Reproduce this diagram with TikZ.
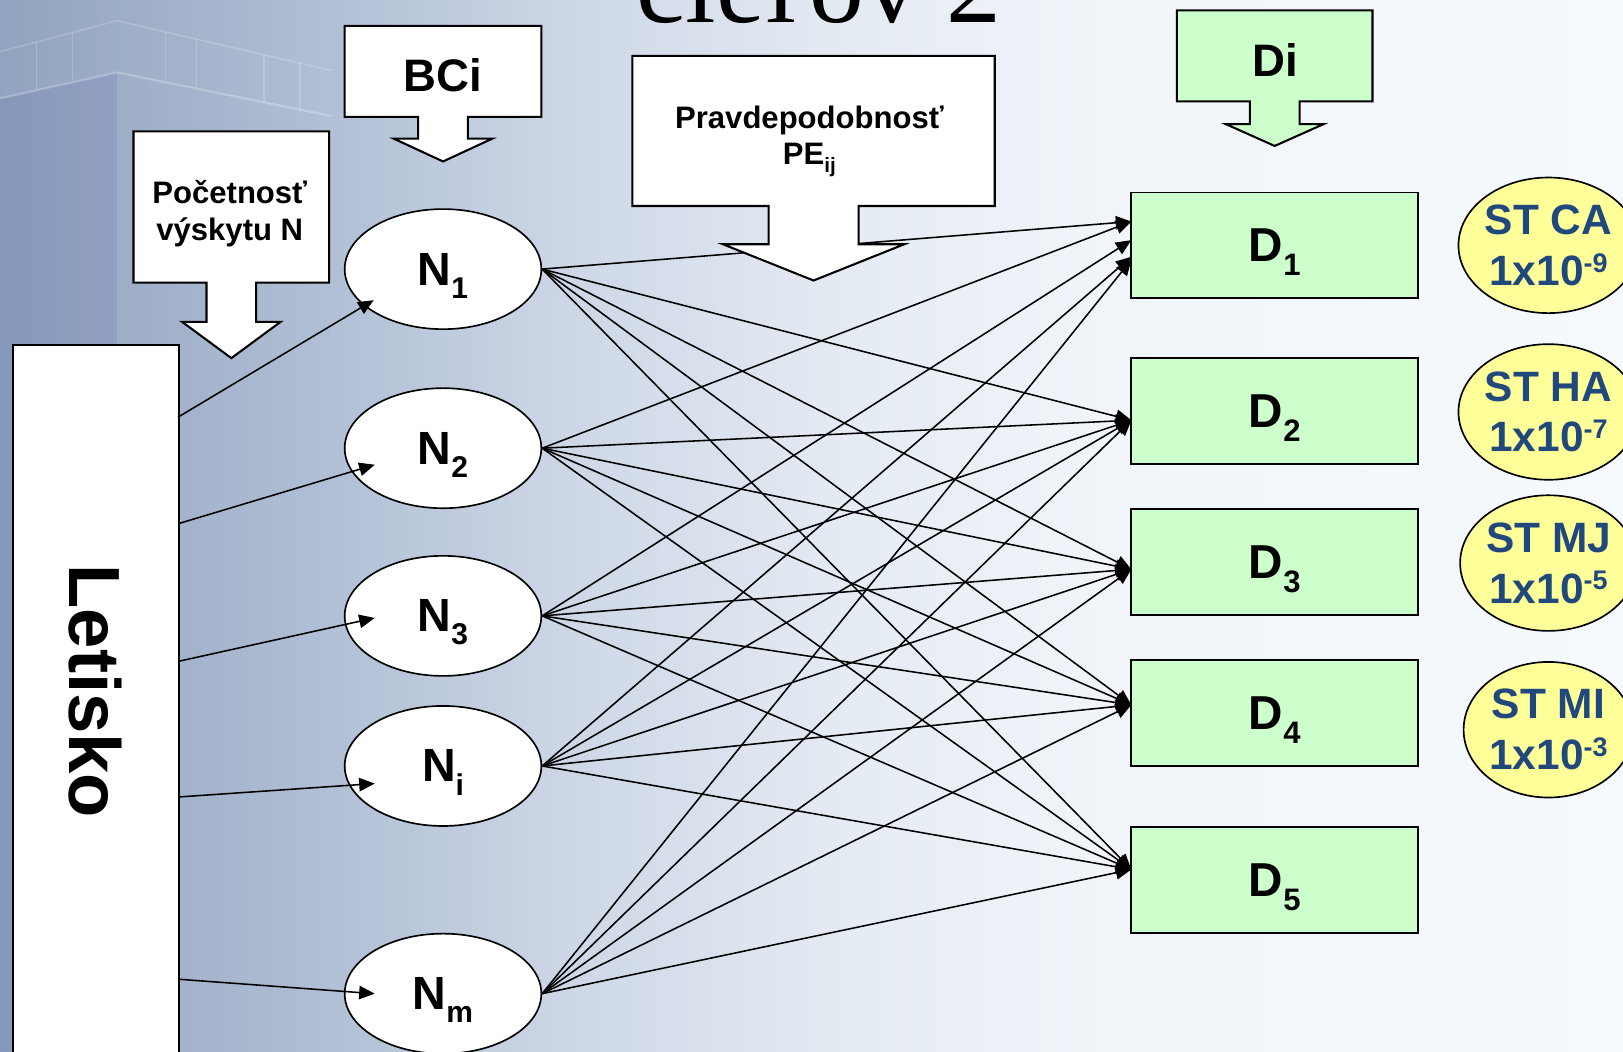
\documentclass[tikz,border=0pt]{standalone}
\usepackage{fontspec}
\setmainfont{Liberation Sans}
\newfontfamily\ttlfont{Liberation Serif}
\usetikzlibrary{arrows.meta,calc,shapes.geometric}
\definecolor{bgA}{RGB}{146,163,191}
\definecolor{bgB}{RGB}{176,191,213}
\definecolor{bgC}{RGB}{207,216,231}
\definecolor{bgD}{RGB}{229,235,243}
\definecolor{bgE}{RGB}{241,245,250}
\definecolor{bgF}{RGB}{246,249,253}
\definecolor{dgreen}{RGB}{204,255,204}
\definecolor{yel}{RGB}{255,255,153}
\definecolor{stblue}{RGB}{33,72,125}
\pgfdeclarehorizontalshading{bgshade}{100bp}{color(0bp)=(bgA); color(25bp)=(bgA); color(35bp)=(bgB); color(43bp)=(bgC); color(51bp)=(bgD); color(59bp)=(bgE); color(75bp)=(bgF); color(100bp)=(bgF)}
\newcommand\callout[9]{%
  \path[draw=black, line width=1pt, fill=#9, line join=miter]
    (#1,#2) -- (#3,#2) -- (#3,#4)
    -- ({(#1+#3)/2+#5},#4) -- ({(#1+#3)/2+#5},#6) -- ({(#1+#3)/2+#7},#6)
    -- ({(#1+#3)/2},#8)
    -- ({(#1+#3)/2-#7},#6) -- ({(#1+#3)/2-#5},#6) -- ({(#1+#3)/2-#5},#4)
    -- (#1,#4) -- cycle;}
\newcommand\nlab[1]{N\smash{\raisebox{-6.3pt}{\fontsize{14.5}{14.5}\selectfont #1}}}
\newcommand\dlab[1]{D\smash{\raisebox{-6.8pt}{\fontsize{15}{15}\selectfont #1}}}
\newcommand\supx[1]{\smash{\raisebox{6.4pt}{\fontsize{13}{13}\selectfont #1}}}
\begin{document}
\begin{tikzpicture}[x=0.5pt,y=-0.5pt,
  nell/.style={ellipse, draw=black, line width=0.8pt, fill=white, inner sep=0pt,
    minimum width=95pt, minimum height=58pt, font=\bfseries\fontsize{22.5}{27}\selectfont},
  dbox/.style={rectangle, draw=black, line width=0.9pt, fill=dgreen, inner sep=0pt,
    minimum width=138.5pt, minimum height=51pt, font=\bfseries\fontsize{23}{27}\selectfont},
  yell/.style={ellipse, draw=black, line width=0.8pt, fill=yel, inner sep=0pt,
    minimum width=82pt, minimum height=65.5pt, align=center, text=stblue,
    font=\bfseries\fontsize{20.5}{24.5}\selectfont},
  conn/.style={line width=0.75pt, -{Triangle[length=7.5pt,width=6.5pt]}},
  lbl/.style={inner sep=0pt, font=\bfseries\fontsize{15}{17.5}\selectfont, align=center},
  big/.style={inner sep=0pt, font=\bfseries\fontsize{22}{26}\selectfont}]
\clip (0,0) rectangle (1568,1016);
\shade[shading=bgshade] (0,0) rectangle (1568,1016);
% faint building
\fill[black!50!blue, opacity=0.07] (0,95) -- (113,70) -- (113,1016) -- (0,1016) -- cycle;
\draw[white, opacity=0.25, line width=1pt] (0,95) -- (113,70) -- (320,112);
\draw[white, opacity=0.18, line width=0.8pt] (0,50) -- (113,20) -- (320,68);
\foreach \px/\py in {35/41, 70/32, 160/31, 190/38, 255/53, 290/61}
  \draw[white, opacity=0.18, line width=0.7pt] (\px,\py) -- (\px,{\py+46});
% title (cut by the top edge, as in the reference)
\node[anchor=base west, inner sep=0pt, font=\ttlfont\fontsize{53}{53}\selectfont] (ttl) at (615,22) {cieľov 2};
% callouts
\callout{333}{25}{523}{113}{24}{134}{47.5}{156}{white}
\node[big] (bci) at (428,73) {BCi};
\callout{129}{127}{318}{273}{24}{311}{47.5}{346}{white}
\node[lbl, anchor=base] (pocet) at (222,232) {Početnosť\\výskytu N};
\callout{1137}{10}{1326}{98}{24}{120}{47}{141}{dgreen}
\node[big] (di) at (1232,58) {Di};
% Letisko
\node[draw=black, line width=1pt, fill=white, anchor=north west, inner sep=0pt,
  minimum width=80pt, minimum height=360pt] (let) at (12,332) {};
\node[rotate=-90, inner sep=0pt, font=\bfseries\fontsize{35}{40}\selectfont] (lettxt) at (92,668) {Letisko};
% N ellipses
\node[nell] (N1) at (428,260) {\nlab{1}};
\node[nell] (N2) at (428,433) {\nlab{2}};
\node[nell] (N3) at (428,595) {\nlab{3}};
\node[nell] (Ni) at (428,740) {\nlab{i}};
\node[nell] (Nm) at (428,960) {\nlab{m}};
% D boxes
\node[dbox] (D1) at (1231.5,237) {\dlab{1}};
\node[dbox] (D2) at (1231.5,397) {\dlab{2}};
\node[dbox] (D3) at (1231.5,543) {\dlab{3}};
\node[dbox] (D4) at (1231.5,689) {\dlab{4}};
\node[dbox] (D5) at (1231.5,850) {\dlab{5}};
% ST ellipses
\node[yell] (st1) at (1496,237) {ST CA\\1x10\supx{-9}};
\node[yell] (st2) at (1496,398) {ST HA\\1x10\supx{-7}};
\node[yell] (st3) at (1496,544) {ST MJ\\1x10\supx{-5}};
\node[yell] (st4) at (1496,705) {ST MI\\1x10\supx{-3}};
% target points on D boxes
\coordinate (d1a) at (1093,214);
\coordinate (d1b) at (1093,232);
\coordinate (d1c) at (1093,248);
\coordinate (d1d) at (1093,251);
\coordinate (d2) at (1093,406);
\coordinate (d3) at (1093,550);
\coordinate (d4) at (1093,681);
\coordinate (d5) at (1093,840);
% N -> D connectors
\draw[conn] (N1.east) -- (d1a);
\draw[conn] (N2.east) -- (d1a);
\draw[conn] (N3.east) -- (d1b);
\draw[conn] (Ni.east) -- (d1c);
\draw[conn] (Nm.east) -- (d1d);
\foreach \n in {N1,N2,N3,Ni,Nm} {
  \draw[conn] (\n.east) -- (d2);
  \draw[conn] (\n.east) -- (d3);
  \draw[conn] (\n.east) -- (d4);
  \draw[conn] (\n.east) -- (d5);
}
% PE callout on top of the lines
\callout{611}{54}{961}{199}{43.5}{236}{87.5}{271}{white}
\node[lbl, anchor=base] (pe) at (782,159) {Pravdepodobnosť\\PE\smash{\raisebox{-4pt}{\fontsize{10}{10}\selectfont ij}}};
% Letisko -> N arrows
\coordinate (s1) at (172,403);
\coordinate (s2) at (172,506);
\coordinate (s3) at (172,639);
\coordinate (s4) at (172,770);
\coordinate (s5) at (172,946);
\coordinate (t1) at (361,290);
\coordinate (t2) at (362,449);
\coordinate (t3) at (362,597);
\coordinate (t4) at (362,757);
\coordinate (t5) at (362,960);
\draw[conn] (s1) -- (t1);
\draw[conn] (s2) -- (t2);
\draw[conn] (s3) -- (t3);
\draw[conn] (s4) -- (t4);
\draw[conn] (s5) -- (t5);
\end{tikzpicture}
\end{document}
